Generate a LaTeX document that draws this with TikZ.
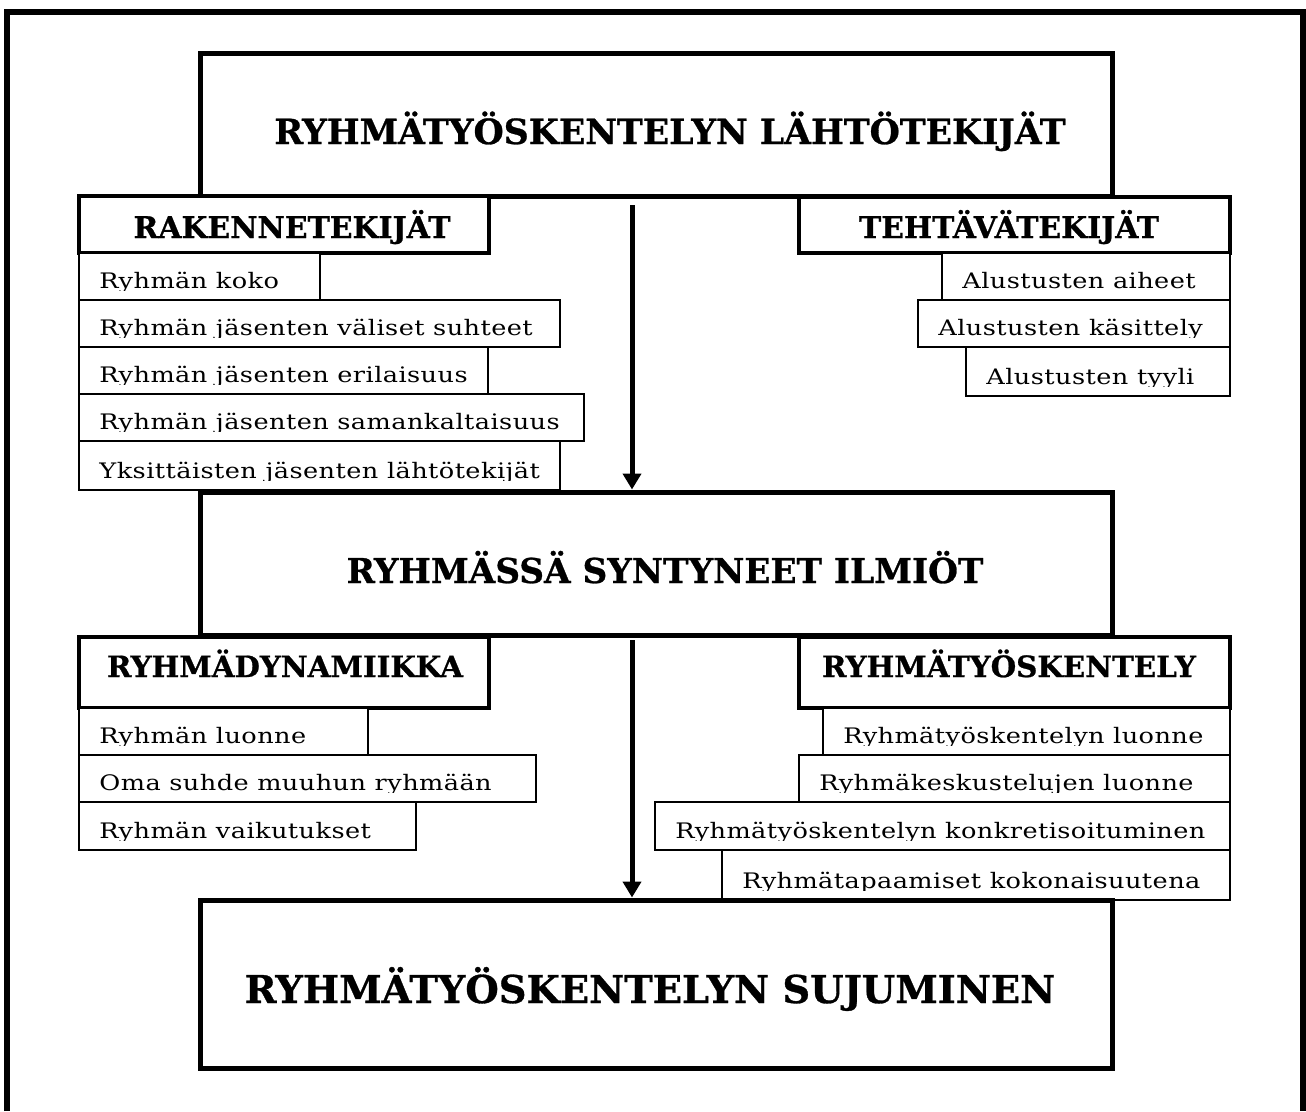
\documentclass[tikz,border=0pt]{standalone}
\usepackage{fontspec}
\usetikzlibrary{arrows.meta,calc}
\newfontfamily\bodyfont{DejaVu Serif}[FakeStretch=1.2,LetterSpace=2]
\newfontfamily\headfont{DejaVu Serif}[FakeBold=0.8]
\newcommand\pbox[6]{\node[#6, minimum width={(#4-#2)*0.75pt}, minimum height={(#5-#3)*0.75pt}] (#1) at ({(#2+#4)/2},{(#3+#5)/2}) {};}
\newcommand\irow[6]{%
  \node[itembox, minimum width={(#4-#2)*0.75pt}, minimum height={(#5-#3)*0.75pt}] (#1) at ({(#2+#4)/2},{(#3+#5)/2}) {};
  \begin{scope}
    \clip (#1.north west) rectangle ([yshift=8pt]#1.south east);
    \node[itemtext] (#1t) at ([xshift=15.75pt, yshift=9pt]#1.south west) {#6};
  \end{scope}}
\begin{document}
\begin{tikzpicture}[x=0.75pt,y=-0.75pt,
  bigbox/.style={draw, line width=3.75pt, fill=white, inner sep=0pt},
  subhead/.style={draw, line width=2.6pt, fill=white, inner sep=0pt},
  itembox/.style={draw, line width=1.2pt, fill=white, inner sep=0pt},
  itemtext/.style={anchor=base west, inner sep=0pt, font=\bodyfont\fontsize{16}{19}\selectfont},
  flow/.style={line width=3.75pt, -{Triangle[width=13.5pt,length=12pt]}},
  frameline/.style={line width=4.5pt},
  htext/.style={inner sep=0pt, anchor=base},
  titlefont/.style={font=\headfont\bfseries\fontsize{#1}{#1}\selectfont}]
\useasboundingbox (0,0) rectangle (1306,1111);
\draw[frameline] (7,1111) -- (7,12) -- (1303,12) -- (1303,1111);
% top section
\pbox{top}{200}{53}{1112}{196}{bigbox}
\pbox{rak}{79}{196}{489}{253}{subhead}
\pbox{teh}{799}{197}{1230}{253}{subhead}
\irow{r1}{79}{253}{320}{300}{Ryhmän koko}
\irow{r2}{79}{300}{560}{347}{Ryhmän jäsenten väliset suhteet}
\irow{r3}{79}{347}{488}{394}{Ryhmän jäsenten erilaisuus}
\irow{r4}{79}{394}{584}{441}{Ryhmän jäsenten samankaltaisuus}
\irow{r5}{79}{441}{560}{490}{Yksittäisten jäsenten lähtötekijät}
\irow{t1}{942}{253}{1230}{300}{Alustusten aiheet}
\irow{t2}{918}{300}{1230}{347}{Alustusten käsittely}
\irow{t3}{966}{347}{1230}{396}{Alustusten tyyli}
% middle section
\pbox{mid}{200}{492}{1112}{635}{bigbox}
\pbox{dyn}{79}{637}{489}{708}{subhead}
\pbox{tyo}{799}{637}{1230}{708}{subhead}
\irow{d1}{79}{708}{368}{755}{Ryhmän luonne}
\irow{d2}{79}{755}{536}{802}{Oma suhde muuhun ryhmään}
\irow{d3}{79}{802}{416}{850}{Ryhmän vaikutukset}
\irow{w1}{823}{708}{1230}{755}{Ryhmätyöskentelyn luonne}
\irow{w2}{799}{755}{1230}{802}{Ryhmäkeskustelujen luonne}
\irow{w3}{655}{802}{1230}{850}{Ryhmätyöskentelyn konkretisoituminen}
\irow{w4}{722}{850}{1230}{900}{Ryhmätapaamiset kokonaisuutena}
% bottom
\pbox{bot}{200}{900}{1112}{1068}{bigbox}
% texts
\node[htext, titlefont=26] (topT) at (670,144) {RYHMÄTYÖSKENTELYN LÄHTÖTEKIJÄT};
\node[htext, titlefont=22.4] (rakT) at (292,238) {RAKENNETEKIJÄT};
\node[htext, titlefont=22.4] (tehT) at (1009,238) {TEHTÄVÄTEKIJÄT};
\node[htext, titlefont=25.7] (midT) at (665,583) {RYHMÄSSÄ SYNTYNEET ILMIÖT};
\node[htext, titlefont=22] (dynT) at (285,677) {RYHMÄDYNAMIIKKA};
\node[htext, titlefont=22] (tyoT) at (1009,677) {RYHMÄTYÖSKENTELY};
\node[htext, titlefont=28.8] (botT) at (650,1003) {RYHMÄTYÖSKENTELYN SUJUMINEN};
% arrows
\coordinate (a1) at (632,205);
\coordinate (a2) at (632,640);
\draw[flow] (a1) -- (a1 |- mid.north);
\draw[flow] (a2) -- (a2 |- bot.north);
\end{tikzpicture}
\end{document}
